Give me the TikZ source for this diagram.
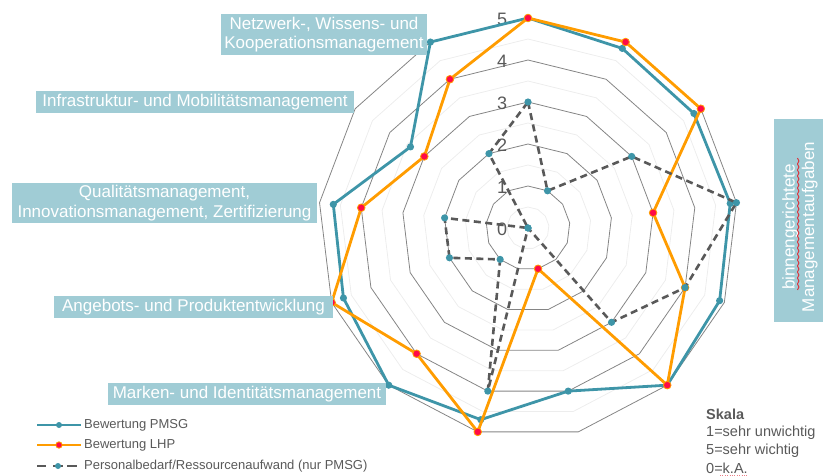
\documentclass[tikz,border=0pt]{standalone}
\usepackage{fontspec}
\setmainfont{Liberation Sans}
\usetikzlibrary{calc}
\definecolor{pmsg}{HTML}{3E95A8}
\definecolor{lhp}{HTML}{FF9C00}
\definecolor{lhpdot}{HTML}{FF0A46}
\definecolor{aufwand}{HTML}{595959}
\definecolor{labelbg}{HTML}{A0CCD5}
\definecolor{gridmajor}{HTML}{858585}
\definecolor{gridminor}{HTML}{EDEDED}
\definecolor{txtgray}{HTML}{595959}
\definecolor{spellred}{HTML}{E02A35}
\begin{document}
\begin{tikzpicture}[x=1pt,y=-1pt,
  catbox/.style={fill=labelbg, text=white, inner sep=0pt, align=center,
    font=\fontsize{17}{19.5}\selectfont},
  numlbl/.style={text=txtgray, font=\fontsize{18}{18}\selectfont, inner sep=0pt},
  legtext/.style={text=txtgray, anchor=west, inner sep=0pt, font=\fontsize{13}{14}\selectfont},
  skaltext/.style={text=txtgray, anchor=west, inner sep=0pt, font=\fontsize{14.5}{15}\selectfont},
  majorgrid/.style={draw=gridmajor, line width=0.8pt},
  minorgrid/.style={draw=gridminor, line width=0.8pt},
  pmsgline/.style={draw=pmsg, line width=2.8pt, line join=round},
  lhpline/.style={draw=lhp, line width=2.8pt, line join=round},
  aufwandline/.style={draw=aufwand, line width=2.6pt, dash pattern=on 7pt off 4.5pt, line join=round},
  pmsgdot/.style={fill=pmsg},
  lhpdotstyle/.style={fill=lhpdot, draw=lhp, line width=0.8pt}
]
\useasboundingbox (0,0) rectangle (830,476);

\begin{scope}[shift={(528,228)}]
  % grid polygons (13 axes)
  \foreach \lv in {0.5,1.5,2.5,3.5,4.5}
    \draw[minorgrid] (-90:{42*\lv}) \foreach \k in {1,...,12}{ -- ({\k*360/13-90}:{42*\lv})} -- cycle;
  \foreach \lv in {1,2,3,4,5}
    \draw[majorgrid] (-90:{42*\lv}) \foreach \k in {1,...,12}{ -- ({\k*360/13-90}:{42*\lv})} -- cycle;

  % scale numbers
  \foreach \lv in {0,...,5}
    \node[numlbl] (num\lv) at (-26,{-42*\lv+1}) {\lv};

  % data points
  \foreach \v [count=\k from 0] in {5,4.83,4.8,4.85,4.88,5,4,4.7,5,4.7,4.67,3.4,5}
    \coordinate (T\k) at ({\k*360/13-90}:{42*\v});
  \foreach \v [count=\k from 0] in {5,5,5,3,4,5,1,5,4,5,4,3,4}
    \coordinate (L\k) at ({\k*360/13-90}:{42*\v});
  \foreach \v [count=\k from 0] in {3,1,3,5,4,3,0,4,1,2,2,0,2}
    \coordinate (A\k) at ({\k*360/13-90}:{42*\v});

  % Bewertung PMSG
  \draw[pmsgline] (T0) \foreach \k in {1,...,12}{ -- (T\k)} -- cycle;
  \foreach \k in {0,...,12} \fill[pmsgdot] (T\k) circle (3.6);
  % Bewertung LHP
  \draw[lhpline] (L0) \foreach \k in {1,...,12}{ -- (L\k)} -- cycle;
  \foreach \k in {0,...,12} \filldraw[lhpdotstyle] (L\k) circle (3.8);
  % Personalbedarf
  \draw[aufwandline] (A0) \foreach \k in {1,...,12}{ -- (A\k)} -- cycle;
  \foreach \k in {0,...,12} \fill[pmsgdot] (A\k) circle (3.6);
\end{scope}

% category labels
\node[catbox, minimum width=206pt, minimum height=41pt] (netz) at (324,34.5)
  {Netzwerk-, Wissens- und\\Kooperationsmanagement};
\node[catbox, minimum width=318pt, minimum height=22pt] (infra) at (195,102)
  {Infrastruktur- und Mobilitätsmanagement};
\node[catbox, minimum width=305pt, minimum height=40pt] (qual) at (164.5,203)
  {Qualitätsmanagement,\\Innovationsmanagement, Zertifizierung};
\node[catbox, minimum width=279pt, minimum height=22pt] (angebot) at (193.5,307)
  {Angebots- und Produktentwicklung};
\node[catbox, minimum width=278pt, minimum height=22pt] (marken) at (247,394)
  {Marken- und Identitätsmanagement};

% group label on the right
\node[fill=labelbg, minimum width=49pt, minimum height=203pt, inner sep=0pt] (binnenbox) at (798.5,220.5) {};
\node[catbox, fill=none, rotate=90] (binnen) at (800,227)
  {binnengerichtete\\Managementaufgaben};
% wavy spell-check underline
\draw[spellred, line width=0.9pt]
  (797.5,158) \foreach \i in {1,...,44} { -- ++({ifthenelse(mod(\i,2)==1,1.4,-1.4)},3) };

% legend
\coordinate (lgA1) at (37,425); \coordinate (lgA2) at (81,425);
\draw[draw=pmsg, line width=2.6pt] (lgA1) -- (lgA2);
\fill[pmsgdot] ($(lgA1)!0.5!(lgA2)$) circle (3);
\node[legtext] (legA) at (84,425) {Bewertung PMSG};

\coordinate (lgB1) at (37,445); \coordinate (lgB2) at (81,445);
\draw[draw=lhp, line width=2.6pt] (lgB1) -- (lgB2);
\filldraw[lhpdotstyle] ($(lgB1)!0.5!(lgB2)$) circle (3.2);
\node[legtext] (legB) at (84,445) {Bewertung LHP};

\coordinate (lgC1) at (37,466); \coordinate (lgC2) at (46,466);
\coordinate (lgC3) at (53,466); \coordinate (lgC4) at (63,466);
\coordinate (lgC5) at (67,466); \coordinate (lgC6) at (77,466);
\draw[draw=aufwand, line width=2.6pt] (lgC1) -- (lgC2) (lgC3) -- (lgC4) (lgC5) -- (lgC6);
\fill[pmsgdot] (58,466) circle (3);
\node[legtext] (legC) at (84,466) {Personalbedarf/Ressourcenaufwand (nur PMSG)};

% scale explanation
\node[skaltext, font=\fontsize{14.5}{15}\selectfont\bfseries] (skala) at (706,414) {Skala};
\node[skaltext] (sk1) at (706,433) {1=sehr unwichtig};
\node[skaltext] (sk5) at (706,451) {5=sehr wichtig};
\node[skaltext] (sk0) at (706,468) {0=k.A.};
\draw[spellred!60, line width=0.5pt, dash pattern=on 0.8pt off 1.6pt] (720,475) -- (748,475);
\end{tikzpicture}
\end{document}
